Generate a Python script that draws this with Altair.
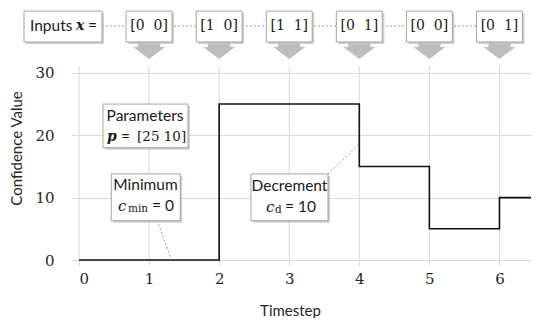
import altair as alt
import pandas as pd

# ---- data -------------------------------------------------------------
t = [0, 1, 2, 3, 4, 5, 6, 6.45]
conf = [0, 0, 25, 25, 15, 5, 10, 10]

x_ticks = [0, 1, 2, 3, 4, 5, 6]
y_ticks = [0, 10, 20, 30]

NB = "\u00a0"
input_steps = [1, 2, 3, 4, 5, 6]
input_labels = ["[0" + NB + NB + "0]", "[1" + NB + NB + "0]", "[1" + NB + NB + "1]",
                "[0" + NB + NB + "1]", "[0" + NB + NB + "0]", "[0" + NB + NB + "1]"]

# annotation boxes (data coordinates)
box_x1 = [-0.785, 0.672, 1.672, 2.672, 3.672, 4.672, 5.672, 0.342, 0.46, 2.454]
box_x2 = [0.328, 1.328, 2.328, 3.328, 4.328, 5.328, 6.328, 1.555, 1.445, 3.553]
box_y1 = [39.9, 39.9, 39.9, 39.9, 39.9, 39.9, 39.9, 25.0, 13.8, 13.8]
box_y2 = [34.95, 34.95, 34.95, 34.95, 34.95, 34.95, 34.95, 18.0, 6.3, 6.3]

# leader lines
lead_x1 = [0.328, 1.117, 3.553]
lead_x2 = [6.0, 1.32, 4.0]
lead_y1 = [37.5, 6.3, 13.8]
lead_y2 = [37.5, 0.0, 18.56]

# text pieces
txt = ["Inputs", "x", "=", "Parameters", "p", "=", "[25" + NB + "10]",
       "Minimum", "c", "min", "= 0", "Decrement", "c", "d", "= 10"]
txt_x = [-0.70, -0.043, 0.128, 0.942, 0.40, 0.60, 0.828,
         0.949, 0.557, 0.699, 1.042, 3.004, 2.668, 2.797, 2.94]
txt_y = [37.46, 37.46, 37.46, 23.15, 19.7, 19.7, 19.7,
         12.03, 8.66, 8.1, 8.66, 11.87, 8.55, 8.05, 8.55]
txt_style = ["sansL", "bi", "sansL", "sansC", "bi", "sansL", "serifL",
             "sansC", "it", "sub", "sansL", "sansC", "it", "sub", "sansL"]

arrow_y = [33.6] * 6
vgrid_top = 31.1

# ---- frames -----------------------------------------------------------
step_df = pd.DataFrame({"t": t, "c": conf})
box_df = pd.DataFrame({"x1": box_x1, "x2": box_x2, "y1": box_y1, "y2": box_y2})
lead_df = pd.DataFrame({"x1": lead_x1, "x2": lead_x2, "y1": lead_y1, "y2": lead_y2})
in_df = pd.DataFrame({"x": input_steps, "label": input_labels, "y": [37.46] * 6, "ay": arrow_y})
txt_df = pd.DataFrame({"text": txt, "x": txt_x, "y": txt_y, "style": txt_style})
vg_df = pd.DataFrame({"x": x_ticks, "y1": [0] * 7, "y2": [vgrid_top] * 7})

xs = alt.Scale(domain=[0, 6.45], nice=False, zero=False)
ys = alt.Scale(domain=[0, 40.4], nice=False, zero=False)

GRID = "#d9d9d9"
SANS = "Lato"
SERIF = "DejaVu Serif"
INK = "#1a1a1a"

x_axis = alt.Axis(values=x_ticks, grid=False, domain=False, tickSize=5, tickColor=GRID,
                  labelFont=SERIF, labelFontSize=15, labelColor="#262626", labelPadding=6,
                  title="Timestep", titleFont=SANS, titleFontSize=15, titleFontWeight="normal",
                  titleColor="#262626", titleX=211, titleY=50, titleAlign="center",
                  titleBaseline="middle", format="d")
y_axis = alt.Axis(values=y_ticks, grid=True, gridColor=GRID, domain=False, tickSize=8,
                  tickColor=GRID, labelFont=SERIF, labelFontSize=15, labelColor="#262626",
                  labelPadding=17, title="Confidence Value", titleFont=SANS, titleFontSize=15,
                  titleFontWeight="normal", titleColor="#262626", titleX=-63, titleY=140,
                  titleAngle=270, titleAlign="center", titleBaseline="middle", format="d")

vgrid = alt.Chart(vg_df).mark_rule(color=GRID, strokeWidth=1).encode(
    x=alt.X("x:Q", scale=xs, axis=x_axis),
    y=alt.Y("y1:Q", scale=ys, axis=y_axis),
    y2="y2:Q",
)

step = alt.Chart(step_df).mark_line(interpolate="step-after", color="#111111",
                                    strokeWidth=1.6).encode(
    x=alt.X("t:Q", scale=xs), y=alt.Y("c:Q", scale=ys))

leaders = alt.Chart(lead_df).mark_rule(color="#9a9a9a", strokeDash=[2, 2], strokeWidth=1).encode(
    x=alt.X("x1:Q", scale=xs), x2="x2:Q", y=alt.Y("y1:Q", scale=ys), y2="y2:Q")

arrow_path = "M-0.69,-0.53 L0.69,-0.53 L0.69,-0.22 L1,-0.22 L0,0.53 L-1,-0.22 L-0.69,-0.22 Z"
arrows = alt.Chart(in_df).mark_point(shape=arrow_path, filled=True, size=1024,
                                     color="#bdbdbd", opacity=1, strokeWidth=0).encode(
    x=alt.X("x:Q", scale=xs), y=alt.Y("ay:Q", scale=ys))

shadow = alt.Chart(box_df).mark_rect(color="#c4c4c4", opacity=0.8, xOffset=2, x2Offset=2,
                                     yOffset=2, y2Offset=2).encode(
    x=alt.X("x1:Q", scale=xs), x2="x2:Q", y=alt.Y("y1:Q", scale=ys), y2="y2:Q")

boxes = alt.Chart(box_df).mark_rect(fill="white", stroke="#a3a3a3", strokeWidth=1).encode(
    x=alt.X("x1:Q", scale=xs), x2="x2:Q", y=alt.Y("y1:Q", scale=ys), y2="y2:Q")

in_text = alt.Chart(in_df).mark_text(font=SERIF, fontSize=14, color=INK,
                                     baseline="middle", align="center").encode(
    x=alt.X("x:Q", scale=xs), y=alt.Y("y:Q", scale=ys), text="label:N")


def tlayer(style, **kw):
    return alt.Chart(txt_df).transform_filter(alt.datum.style == style).mark_text(
        color=INK, baseline="middle", **kw).encode(
        x=alt.X("x:Q", scale=xs), y=alt.Y("y:Q", scale=ys), text="text:N")


texts = [
    tlayer("sansL", font=SANS, fontSize=15.5, align="left"),
    tlayer("sansC", font=SANS, fontSize=15.5, align="center"),
    tlayer("serifL", font=SERIF, fontSize=13.5, align="left"),
    tlayer("bi", font=SERIF, fontSize=14, fontStyle="italic", fontWeight="bold", align="left"),
    tlayer("it", font=SERIF, fontSize=15, fontStyle="italic", align="left"),
    tlayer("sub", font=SERIF, fontSize=10.5, align="left"),
]

chart = alt.layer(vgrid, step, leaders, arrows, shadow, boxes, in_text, *texts).properties(
    width=452, height=252,
    padding={"left": 71, "top": 0, "right": 11, "bottom": 58},
    autosize=alt.AutoSizeParams(type="none"),
    background="white",
).configure_view(stroke=None)

chart.save("out.html", embed_options={"renderer": "svg", "actions": False})
